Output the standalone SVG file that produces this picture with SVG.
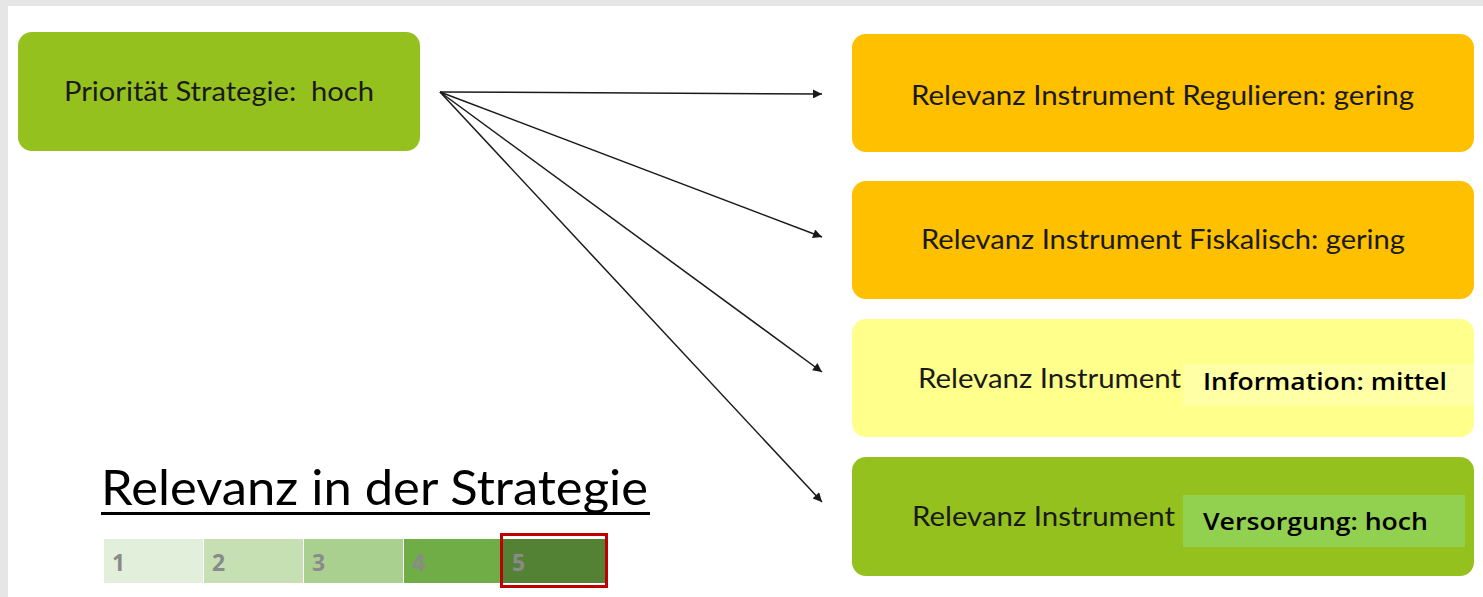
<svg xmlns="http://www.w3.org/2000/svg" width="1483" height="597" viewBox="0 0 1483 597">
<style>
.lbl{font-family:"Lato","Liberation Sans",sans-serif;font-size:26px;fill:#1a1a1a;white-space:pre}
.ovl{font-family:"Open Sans","Liberation Sans",sans-serif;font-size:23px;font-weight:600;fill:#000}
.num{font-family:"Open Sans","Liberation Sans",sans-serif;font-size:23px;font-weight:700;fill:#8a8a8a}
.con{stroke:#1a1a1a;stroke-width:1.5;fill:none;marker-end:url(#ah)}
</style>
<defs>
<marker id="ah" viewBox="0 0 10 10" refX="10" refY="5" markerWidth="11" markerHeight="9" markerUnits="userSpaceOnUse" orient="auto">
<path d="M0,0 L10,5 L0,10 z" fill="#1a1a1a"/>
</marker>
</defs>
<rect width="1483" height="597" fill="#e6e6e6"/>
<rect x="8" y="6" width="1475" height="591" fill="#ffffff"/>
<g id="n-prio">
<rect x="18" y="32" width="402" height="119" rx="14" fill="#95c11f"/>
<text class="lbl" x="64" y="101" textLength="310" lengthAdjust="spacingAndGlyphs" xml:space="preserve">Priorität Strategie:  hoch</text>
</g>
<g id="n-reg">
<rect x="852" y="34" width="622" height="118" rx="14" fill="#ffc000"/>
<text class="lbl" x="911" y="105" textLength="503" lengthAdjust="spacingAndGlyphs">Relevanz Instrument Regulieren: gering</text>
</g>
<g id="n-fis">
<rect x="852" y="181" width="622" height="118" rx="14" fill="#ffc000"/>
<text class="lbl" x="921" y="249" textLength="484" lengthAdjust="spacingAndGlyphs">Relevanz Instrument Fiskalisch: gering</text>
</g>
<g id="n-inf">
<rect x="852" y="319" width="622" height="118" rx="14" fill="#ffff8c"/>
<text class="lbl" x="918" y="388" textLength="263" lengthAdjust="spacingAndGlyphs">Relevanz Instrument</text>
<rect x="1183" y="364" width="291" height="42" fill="#ffffa6"/>
<text class="ovl" x="1203" y="390" textLength="244" lengthAdjust="spacingAndGlyphs">Information: mittel</text>
</g>
<g id="n-ver">
<rect x="852" y="457" width="622" height="119" rx="14" fill="#95c11f"/>
<text class="lbl" x="912" y="526" textLength="263" lengthAdjust="spacingAndGlyphs">Relevanz Instrument</text>
<rect x="1183" y="495" width="282" height="52" fill="#92d050"/>
<text class="ovl" x="1203" y="530" textLength="225" lengthAdjust="spacingAndGlyphs">Versorgung: hoch</text>
</g>
<g id="connectors">
<line class="con" x1="440" y1="92" x2="822" y2="94"/>
<line class="con" x1="440" y1="92" x2="822" y2="237"/>
<line class="con" x1="440" y1="92" x2="822" y2="372"/>
<line class="con" x1="440" y1="92" x2="822" y2="502"/>
</g>
<g id="legend">
<text x="101" y="505" font-family="Lato, 'Liberation Sans', sans-serif" font-size="48" fill="#000" textLength="547" lengthAdjust="spacingAndGlyphs">Relevanz in der Strategie</text>
<rect x="101" y="512" width="549" height="3" fill="#000"/>
<rect x="104" y="539" width="99" height="44" fill="#e2efda"/>
<rect x="204" y="539" width="99" height="44" fill="#c6e0b4"/>
<rect x="304" y="539" width="99" height="44" fill="#a9d08e"/>
<rect x="404" y="539" width="96" height="44" fill="#70ad47"/>
<rect x="503" y="539" width="102" height="44" fill="#548235"/>
<rect x="501.5" y="534.5" width="105" height="52" fill="none" stroke="#c00000" stroke-width="3"/>
<text class="num" x="112" y="571">1</text>
<text class="num" x="212" y="571">2</text>
<text class="num" x="312" y="571">3</text>
<text class="num" x="412" y="571">4</text>
<text class="num" x="512" y="571" fill="#6f7f66">5</text>
</g>
</svg>
